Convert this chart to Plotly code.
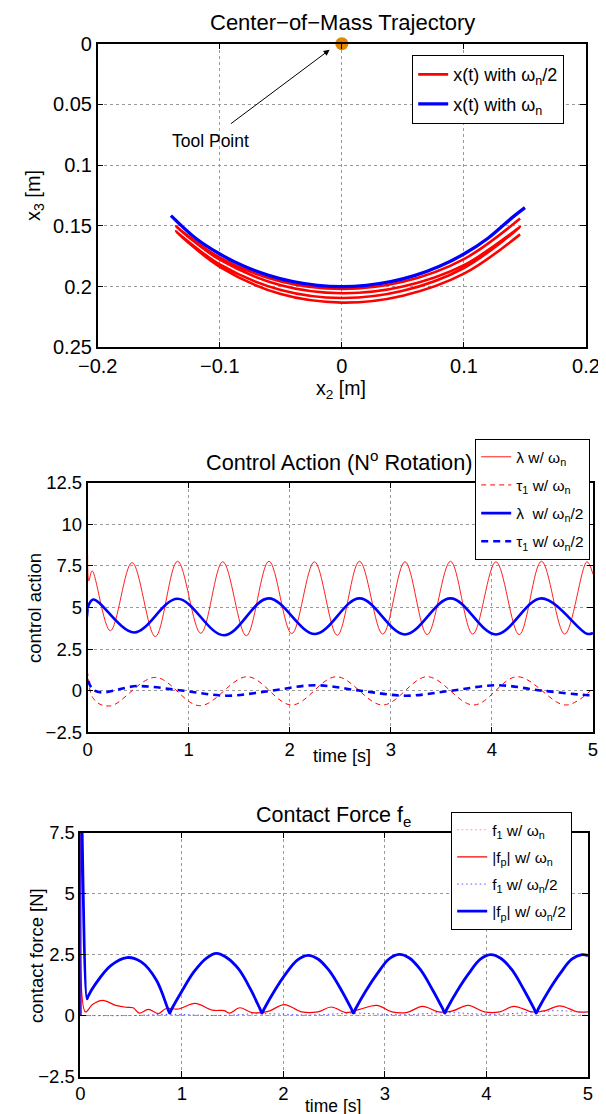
import plotly.graph_objects as go

W, H = 606, 1114

# ---------------- Panel 1 : Center-of-Mass Trajectory ----------------
blue_x2 = [-0.140, -0.12, -0.10, -0.08, -0.06, -0.04, -0.02, 0.0, 0.02, 0.04, 0.06, 0.08, 0.10, 0.12, 0.14, 0.150]
blue_x3 = [0.1416, 0.160, 0.1732, 0.1833, 0.1908, 0.196, 0.199, 0.200, 0.199, 0.196, 0.1908, 0.1833, 0.1732, 0.160, 0.1428, 0.135]

red_x2 = [0.146, 0.1, 0.05, 0.0, -0.05, -0.1, -0.136,
          -0.1, -0.05, 0.0, 0.05, 0.1, 0.146,
          0.1, 0.05, 0.0, -0.05, -0.1, -0.136,
          -0.1, -0.05, 0.0, 0.05, 0.1, 0.146]
red_x3 = [0.144, 0.1774, 0.1961, 0.202, 0.1958, 0.1761, 0.1504,
          0.1779, 0.1989, 0.2055, 0.2000, 0.1824, 0.151,
          0.1847, 0.2035, 0.2094, 0.2028, 0.1818, 0.1545,
          0.1837, 0.2062, 0.2132, 0.2075, 0.1894, 0.157]

tool_x2 = [0.0]
tool_x3 = [0.0]

# ---------------- Panel 2 : Control Action ----------------
t_lam1 = [0, 0.012, 0.045, 0.225, 0.44, 0.67, 0.89, 1.12, 1.337, 1.57, 1.794, 2.02, 2.244, 2.47,
          2.69, 2.92, 3.14, 3.36, 3.59, 3.81, 4.04, 4.27, 4.49, 4.72, 4.94, 5.0]
lam1 = [8.2, 6.6, 7.2, 3.6, 7.7, 3.25, 7.78, 3.45, 7.75, 3.3, 7.78, 3.43, 7.75, 3.33,
        7.78, 3.4, 7.75, 3.37, 7.78, 3.4, 7.75, 3.37, 7.78, 3.4, 7.75, 7.0]

t_tau1 = [0, 0.055, 0.22, 0.67, 1.11, 1.58, 2.02, 2.46, 2.92, 3.36, 3.82, 4.25, 4.73, 5.0]
tau1 = [4.5, -0.45, -0.92, 0.8, -0.9, 0.84, -0.86, 0.84, -0.86, 0.84, -0.86, 0.84, -0.86, 0.15]

t_lam2 = [0, 0.055, 0.46, 0.89, 1.35, 1.79, 2.25, 2.69, 3.14, 3.59, 4.04, 4.49, 4.94, 5.0]
lam2 = [4.95, 5.48, 3.5, 5.53, 3.33, 5.55, 3.41, 5.55, 3.38, 5.55, 3.38, 5.55, 3.42, 3.47]

t_tau2 = [0, 0.055, 0.5, 0.95, 1.38, 1.82, 2.25, 2.7, 3.15, 3.6, 4.05, 4.5, 4.95, 5.0]
tau2 = [4.9, 0.06, 0.28, 0.0, -0.3, 0.0, 0.33, 0.0, -0.3, 0.0, 0.33, 0.0, -0.27, -0.27]

# ---------------- Panel 3 : Contact Force ----------------
t_f1a = [0, 1, 2, 3, 4, 5]
f1a = [0.0, 0.0, 0.01, 0.01, 0.01, 0.02]

t_fp1 = [0, 0.008, 0.05, 0.12, 0.22, 0.35, 0.45, 0.52, 0.58, 0.67, 0.77, 0.84, 0.97, 1.13, 1.3, 1.42,
         1.47, 1.57, 1.69, 1.85, 2.01, 2.18, 2.34, 2.47, 2.62, 2.75, 2.92, 3.07, 3.22, 3.37, 3.53,
         3.66, 3.82, 3.98, 4.13, 4.27, 4.45, 4.58, 4.72, 4.9, 5.0]
fp1 = [0, 10, 0.15, 0.45, 0.62, 0.42, 0.34, 0.32, 0.1, 0.25, 0.08, 0.28, 0.27, 0.5, 0.22, 0.2,
       0.1, 0.32, 0.12, 0.17, 0.45, 0.15, 0.15, 0.35, 0.12, 0.25, 0.42, 0.15, 0.13, 0.38, 0.15,
       0.18, 0.42, 0.15, 0.15, 0.38, 0.15, 0.2, 0.4, 0.15, 0.15]

t_f1b = [0, 0.5, 0.9, 1.35, 1.8, 2.25, 2.7, 3.15, 3.6, 4.05, 4.5, 4.7, 5.0]
f1b = [0.0, 0.0, 0.05, 0.0, 0.08, 0.02, 0.1, 0.03, 0.12, 0.05, 0.15, 0.2, 0.12]

t_fp2 = [0, 0.004, 0.065, 0.075, 0.15, 0.3, 0.46, 0.6, 0.75, 0.86, 0.88, 0.90, 1.0, 1.12, 1.24, 1.34,
         1.44, 1.56, 1.68, 1.77, 1.79, 1.81, 1.91, 2.03, 2.14, 2.24, 2.34, 2.45, 2.57, 2.67, 2.69,
         2.71, 2.81, 2.93, 3.04, 3.14, 3.24, 3.35, 3.47, 3.57, 3.59, 3.61, 3.71, 3.83, 3.94, 4.04,
         4.14, 4.25, 4.37, 4.47, 4.49, 4.51, 4.61, 4.73, 4.84, 4.94, 5.0]
fp2 = [0, 10, 0.68, 0.78, 1.3, 2.05, 2.38, 2.2, 1.45, 0.3, 0.1, 0.27, 1.0, 1.8, 2.35, 2.55,
       2.38, 1.9, 1.05, 0.27, 0.1, 0.27, 1.0, 1.75, 2.28, 2.47, 2.32, 1.85, 1.05, 0.27, 0.1,
       0.27, 1.0, 1.75, 2.32, 2.51, 2.36, 1.88, 1.05, 0.27, 0.1, 0.27, 1.0, 1.75, 2.31, 2.5,
       2.35, 1.88, 1.05, 0.27, 0.1, 0.27, 1.0, 1.75, 2.31, 2.5, 2.46]


def dx(p):
    return p / W


def dy(p):
    return 1 - p / H


FONT = "Liberation Sans, Arial, sans-serif"

fig = go.Figure()

# Panel 1 traces
fig.add_trace(go.Scatter(x=red_x2, y=red_x3, mode="lines", line=dict(color="#ff0000", width=2.6, shape="spline"),
                         name="x(t) with ω<sub>n</sub>/2", xaxis="x", yaxis="y", legend="legend", legendgroup="a1"))
fig.add_trace(go.Scatter(x=blue_x2, y=blue_x3, mode="lines", line=dict(color="#0000ff", width=3.3, shape="spline"),
                         name="x(t) with ω<sub>n</sub>", xaxis="x", yaxis="y", legend="legend", legendgroup="a2"))
fig.add_trace(go.Scatter(x=tool_x2, y=tool_x3, mode="markers", marker=dict(color="#e08600", size=13),
                         showlegend=False, cliponaxis=False, xaxis="x", yaxis="y"))

# Panel 2 traces
fig.add_trace(go.Scatter(x=t_lam1, y=lam1, mode="lines", line=dict(color="#ff2020", width=1, shape="spline"),
                         name="λ w/ ω<sub>n</sub>", xaxis="x2", yaxis="y2", legend="legend2", legendgroup="b1"))
fig.add_trace(go.Scatter(x=t_tau1, y=tau1, mode="lines", line=dict(color="#ff0000", width=1, shape="spline", dash="5px,4px"),
                         name="τ<sub>1</sub> w/ ω<sub>n</sub>", xaxis="x2", yaxis="y2", legend="legend2", legendgroup="b2"))
fig.add_trace(go.Scatter(x=t_lam2, y=lam2, mode="lines", line=dict(color="#0000ff", width=2.6, shape="spline"),
                         name="λ  w/ ω<sub>n</sub>/2", xaxis="x2", yaxis="y2", legend="legend2", legendgroup="b3"))
fig.add_trace(go.Scatter(x=t_tau2, y=tau2, mode="lines", line=dict(color="#0000ff", width=2.6, shape="spline", dash="7px,5px"),
                         name="τ<sub>1</sub> w/ ω<sub>n</sub>/2", xaxis="x2", yaxis="y2", legend="legend2", legendgroup="b4"))

# Panel 3 traces
fig.add_trace(go.Scatter(x=t_f1a, y=f1a, mode="lines", line=dict(color="#ff8c8c", width=1, dash="1.5px,3px"),
                         name="f<sub>1</sub> w/ ω<sub>n</sub>", xaxis="x3", yaxis="y3", legend="legend3", legendgroup="c1"))
fig.add_trace(go.Scatter(x=t_fp1, y=fp1, mode="lines", line=dict(color="#ff0000", width=1.2, shape="spline"),
                         name="|f<sub>p</sub>| w/ ω<sub>n</sub>", xaxis="x3", yaxis="y3", legend="legend3", legendgroup="c2"))
fig.add_trace(go.Scatter(x=t_f1b, y=f1b, mode="lines", line=dict(color="#5555ff", width=1, shape="spline", dash="1.5px,3px"),
                         name="f<sub>1</sub> w/ ω<sub>n</sub>/2", xaxis="x3", yaxis="y3", legend="legend3", legendgroup="c3"))
fig.add_trace(go.Scatter(x=t_fp2, y=fp2, mode="lines", line=dict(color="#0000ff", width=2.8, shape="spline"),
                         name="|f<sub>p</sub>| w/ ω<sub>n</sub>/2", xaxis="x3", yaxis="y3", legend="legend3", legendgroup="c4"))


def axis(domain, rng, dtick, anchor, size, reverse=False, tick0=None):
    d = dict(domain=domain, range=rng, dtick=dtick, anchor=anchor, showline=True, linecolor="black",
             linewidth=1.5, mirror="ticks", ticks="inside", ticklen=6, tickcolor="black", tickwidth=1,
             showgrid=True, gridcolor="#9a9a9a", griddash="dot", gridwidth=1, zeroline=False,
             automargin=False,
             tickfont=dict(family=FONT, size=size, color="black"), fixedrange=True)
    if tick0 is not None:
        d["tick0"] = tick0
    if reverse:
        d["range"] = rng[::-1]
    return d


LEG = dict(xanchor="left", yanchor="top", bgcolor="white", bordercolor="black", borderwidth=1.2,
           traceorder="grouped")

fig.update_layout(
    width=W, height=H, margin=dict(l=0, r=0, t=0, b=0, pad=0, autoexpand=False),
    paper_bgcolor="white", plot_bgcolor="white",
    font=dict(family=FONT, color="black"),
    xaxis=axis([dx(89.7), dx(578)], [-0.2, 0.2], 0.1, "y", 20),
    yaxis=axis([dy(339.3), dy(35.7)], [0, 0.25], 0.05, "x", 20, reverse=True),
    xaxis2=axis([dx(79.6), dx(585)], [0, 5], 1, "y2", 18.5),
    yaxis2=axis([dy(724.3), dy(474.7)], [-2.5, 12.5], 2.5, "x2", 18.5, tick0=0),
    xaxis3=axis([dx(72.3), dx(580)], [0, 5], 1, "y3", 18.5),
    yaxis3=axis([dy(1068.5), dy(824.7)], [-2.5, 7.5], 2.5, "x3", 18.5, tick0=0),
    legend=dict(x=dx(404), y=dy(47), font=dict(family=FONT, size=18), tracegroupgap=3, **LEG),
    legend2=dict(x=dx(467), y=dy(431), font=dict(family=FONT, size=15.5), tracegroupgap=5, **LEG),
    legend3=dict(x=dx(443), y=dy(804), font=dict(family=FONT, size=15.5), tracegroupgap=4, **LEG),
    showlegend=True,
)


def label(text, x, y, size, angle=0):
    fig.add_annotation(text=text, x=dx(x), y=dy(y), xref="paper", yref="paper", showarrow=False,
                       xanchor="center", yanchor="middle", textangle=angle,
                       font=dict(family=FONT, size=size, color="black"))


label("Center−of−Mass Trajectory", 334, 14, 22)
label("x<sub>2</sub> [m]", 333, 381, 19.5)
label("x<sub>3</sub> [m]", 27, 188, 20, -90)

label("Control Action (N<sup>o</sup> Rotation)", 331, 453, 21.7)
label("time [s]", 334, 748, 18)
label("control action", 26, 600, 18.5, -90)

label("Contact Force f<sub>e</sub>", 325, 808, 21.5)
label("time [s]", 325, 1098, 17.5)
label("contact force [N]", 28, 948, 18.5, -90)

# Tool point arrow and text
fig.add_annotation(x=-0.01, y=0.005, ax=-0.092, ay=0.0667, xref="x", yref="y", axref="x", ayref="y",
                   showarrow=True, arrowhead=2, arrowsize=1.2, arrowwidth=1, arrowcolor="black", text="")
fig.add_annotation(x=-0.108, y=0.0799, xref="x", yref="y", text="Tool Point", showarrow=False,
                   xanchor="center", yanchor="middle", font=dict(family=FONT, size=17.5, color="black"))

fig.write_html("out.html")
